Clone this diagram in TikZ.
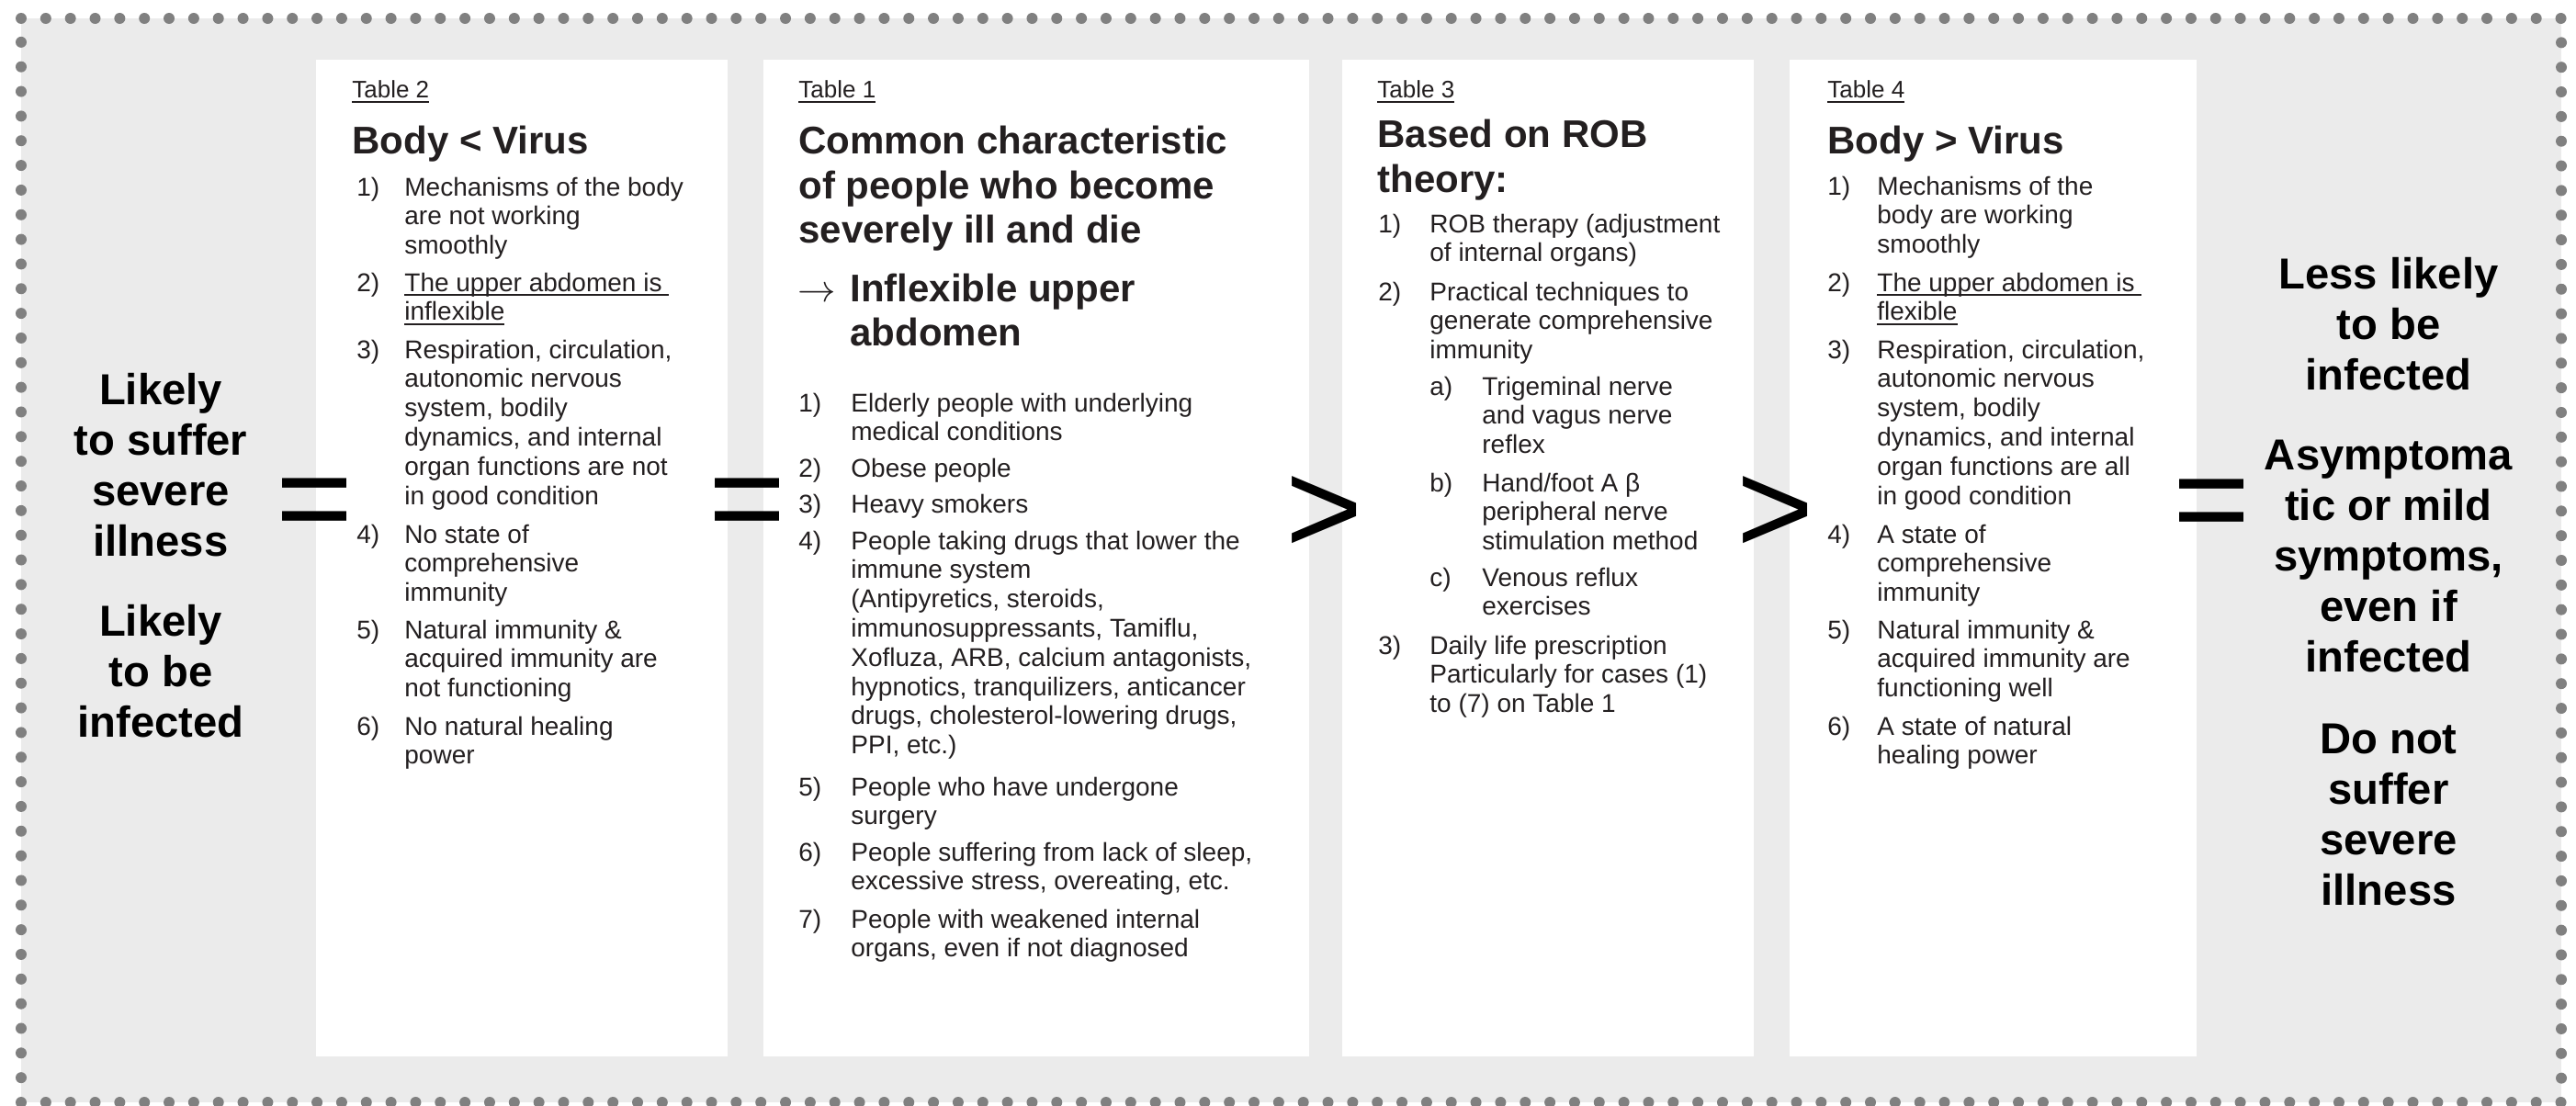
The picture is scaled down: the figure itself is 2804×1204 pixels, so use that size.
\documentclass[tikz,border=0pt]{standalone}
\usepackage{fontspec}
\setmainfont{Liberation Sans}

\definecolor{ink}{HTML}{231F20}
\definecolor{panelgrey}{HTML}{EBEBEB}
\definecolor{dotgrey}{HTML}{808080}

% font sizes
\newcommand\labelfont{\fontsize{13}{15}\selectfont}
\newcommand\bodyfont{\fontsize{14}{15.9}\selectfont}
\newcommand\headfont{\fontsize{21}{24.2}\selectfont\bfseries}
\newcommand\headthin{\fontsize{21}{24.2}\selectfont}
\newcommand\sidefont{\fontsize{23.6}{27.5}\selectfont\bfseries}
\newcommand\symfont{\fontsize{72}{72}\selectfont}

% multi-line block whose baseline is its first line
\newcommand\txtlines[1]{\parbox[t]{240pt}{\raggedright #1}}
\newcommand\sidelines[1]{\parbox[t]{150pt}{\centering #1}}
% underline drawn just below the baseline
\newcommand\undl[1]{\leavevmode{\setbox0\hbox{#1}\rlap{\rule[-2.4pt]{\wd0}{0.9pt}}\box0}}

\tikzset{
  panel/.style={fill=white, draw=none, anchor=north west, inner sep=0pt},
  dotline/.style={draw=dotgrey, line width=6pt, line cap=round,
                  dash pattern=on 0pt off 13.42pt},
  lbl/.style={anchor=base west, inner sep=0pt, font=\labelfont, text=ink},
  head/.style={anchor=base west, inner sep=0pt, font=\headfont, text=ink},
  num/.style={anchor=base west, inner sep=0pt, font=\bodyfont, text=ink},
  txt/.style={anchor=base west, inner sep=0pt, font=\bodyfont, text=ink},
  side/.style={anchor=base, inner sep=0pt, font=\sidefont, text=black},
  sym/.style={anchor=center, inner sep=0pt, font=\symfont, text=black}
}

\begin{document}
\begin{tikzpicture}[x=0.5pt, y=-0.5pt]
\useasboundingbox (0,0) rectangle (2804,1204);

% background with dotted frame
\fill[panelgrey] (23,20) rectangle (2788,1200);
\draw[dotline] (23,20) -- (2788,20) -- (2788,1200) -- (23,1200) -- cycle;

% white panels
\node[panel, minimum width=224pt, minimum height=542.5pt] (p2) at (344,65) {};
\node[panel, minimum width=297pt, minimum height=542.5pt] (p1) at (831,65) {};
\node[panel, minimum width=224pt, minimum height=542.5pt] (p3) at (1461,65) {};
\node[panel, minimum width=221.5pt, minimum height=542.5pt] (p4) at (1948,65) {};

% ---------- Table 2 ----------
\node[lbl] (t2lbl) at (383,107) {\undl{Table 2}};
\node[head] (t2head) at (383,168) {Body < Virus};
\node[num] (t2n1) at (388,213) {1)};
\node[txt] (t2i1) at (440,213) {\txtlines{Mechanisms of the body\\are not working\\smoothly}};
\node[num] (t2n2) at (388,317) {2)};
\node[txt] (t2i2) at (440,317) {\txtlines{\undl{The upper abdomen is }\\\undl{inflexible}}};
\node[num] (t2n3) at (388,390) {3)};
\node[txt] (t2i3) at (440,390) {\txtlines{Respiration, circulation,\\autonomic nervous\\system, bodily\\dynamics, and internal\\organ functions are not\\in good condition}};
\node[num] (t2n4) at (388,591) {4)};
\node[txt] (t2i4) at (440,591) {\txtlines{No state of\\comprehensive\\immunity}};
\node[num] (t2n5) at (388,695) {5)};
\node[txt] (t2i5) at (440,695) {\txtlines{Natural immunity \&\\acquired immunity are\\not functioning}};
\node[num] (t2n6) at (388,800) {6)};
\node[txt] (t2i6) at (440,800) {\txtlines{No natural healing\\power}};

% ---------- Table 1 ----------
\node[lbl] (t1lbl) at (869,107) {\undl{Table 1}};
\node[head] (t1head) at (869,168) {\txtlines{Common characteristic\\of people who become\\severely ill and die}};
\node[head, font=\headthin] (t1arrow) at (868,328) {$\rightarrow$};
\node[head] (t1sub) at (925,328) {\txtlines{Inflexible upper\\abdomen}};
\node[num] (t1n1) at (869,448) {1)};
\node[txt] (t1i1) at (926,448) {\txtlines{Elderly people with underlying\\medical conditions}};
\node[num] (t1n2) at (869,519) {2)};
\node[txt] (t1i2) at (926,519) {\txtlines{Obese people}};
\node[num] (t1n3) at (869,558) {3)};
\node[txt] (t1i3) at (926,558) {\txtlines{Heavy smokers}};
\node[num] (t1n4) at (869,598) {4)};
\node[txt] (t1i4) at (926,598) {\txtlines{People taking drugs that lower the\\immune system\\(Antipyretics, steroids,\\immunosuppressants, Tamiflu,\\Xofluza, ARB, calcium antagonists,\\hypnotics, tranquilizers, anticancer\\drugs, cholesterol-lowering drugs,\\PPI, etc.)}};
\node[num] (t1n5) at (869,866) {5)};
\node[txt] (t1i5) at (926,866) {\txtlines{People who have undergone\\surgery}};
\node[num] (t1n6) at (869,937) {6)};
\node[txt] (t1i6) at (926,937) {\txtlines{People suffering from lack of sleep,\\excessive stress, overeating, etc.}};
\node[num] (t1n7) at (869,1010) {7)};
\node[txt] (t1i7) at (926,1010) {\txtlines{People with weakened internal\\organs, even if not diagnosed}};

% ---------- Table 3 ----------
\node[lbl] (t3lbl) at (1499,107) {\undl{Table 3}};
\node[head] (t3head) at (1499,161) {\txtlines{Based on ROB\\theory:}};
\node[num] (t3n1) at (1500,253) {1)};
\node[txt] (t3i1) at (1556,253) {\txtlines{ROB therapy (adjustment\\of internal organs)}};
\node[num] (t3n2) at (1500,327) {2)};
\node[txt] (t3i2) at (1556,327) {\txtlines{Practical techniques to\\generate comprehensive\\immunity}};
\node[num] (t3na) at (1556,430) {a)};
\node[txt] (t3ia) at (1613,430) {\txtlines{Trigeminal nerve\\and vagus nerve\\reflex}};
\node[num] (t3nb) at (1556,535) {b)};
\node[txt] (t3ib) at (1613,535) {\txtlines{Hand/foot A β\\peripheral nerve\\stimulation method}};
\node[num] (t3nc) at (1556,638) {c)};
\node[txt] (t3ic) at (1613,638) {\txtlines{Venous reflux\\exercises}};
\node[num] (t3n3) at (1500,712) {3)};
\node[txt] (t3i3) at (1556,712) {\txtlines{Daily life prescription\\Particularly for cases (1)\\to (7) on Table 1}};

% ---------- Table 4 ----------
\node[lbl] (t4lbl) at (1989,107) {\undl{Table 4}};
\node[head] (t4head) at (1989,167) {Body > Virus};
\node[num] (t4n1) at (1989,212) {1)};
\node[txt] (t4i1) at (2043,212) {\txtlines{Mechanisms of the\\body are working\\smoothly}};
\node[num] (t4n2) at (1989,317) {2)};
\node[txt] (t4i2) at (2043,317) {\txtlines{\undl{The upper abdomen is }\\\undl{flexible}}};
\node[num] (t4n3) at (1989,390) {3)};
\node[txt] (t4i3) at (2043,390) {\txtlines{Respiration, circulation,\\autonomic nervous\\system, bodily\\dynamics, and internal\\organ functions are all\\in good condition}};
\node[num] (t4n4) at (1989,591) {4)};
\node[txt] (t4i4) at (2043,591) {\txtlines{A state of\\comprehensive\\immunity}};
\node[num] (t4n5) at (1989,695) {5)};
\node[txt] (t4i5) at (2043,695) {\txtlines{Natural immunity \&\\acquired immunity are\\functioning well}};
\node[num] (t4n6) at (1989,800) {6)};
\node[txt] (t4i6) at (2043,800) {\txtlines{A state of natural\\healing power}};

% ---------- outcome texts ----------
\node[side] (left1) at (175,440) {\sidelines{Likely\\to suffer\\severe\\illness}};
\node[side] (left2) at (175,692) {\sidelines{Likely\\to be\\infected}};
\node[side] (right1) at (2600,314) {\sidelines{Less likely\\to be\\infected}};
\node[side] (right2) at (2600,511) {\sidelines{Asymptoma\\tic or mild\\symptoms,\\even if\\infected}};
\node[side] (right3) at (2600,820) {\sidelines{Do not\\suffer\\severe\\illness}};

% ---------- relation signs ----------
\node[sym] (eq1) at (343,556) {=};
\node[sym] (eq2) at (814,556) {=};
\node[sym] (gt1) at (1442,561) {>};
\node[sym] (gt2) at (1933,561) {>};
\node[sym] (eq3) at (2408,557) {=};
\end{tikzpicture}
\end{document}
